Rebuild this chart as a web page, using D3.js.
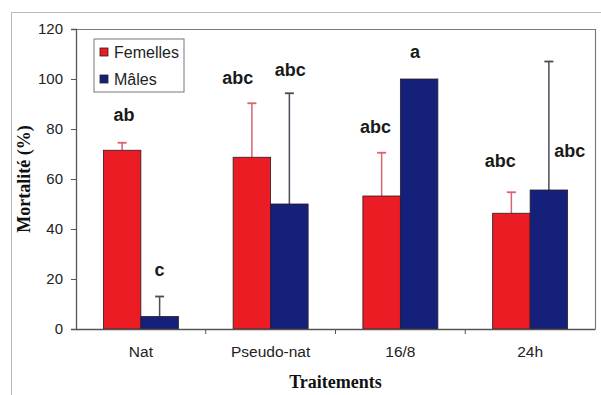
<!DOCTYPE html>
<html><head><meta charset="utf-8">
<script src="https://cdn.jsdelivr.net/npm/d3@7"></script>
<style>html,body{margin:0;padding:0;background:#fff}svg{display:block}</style>
</head><body>
<script>
const categories = ["Nat", "Pseudo-nat", "16/8", "24h"];
const seriesNames = ["Femelles", "Mâles"];
const femelles = [71.5, 68.7, 53.2, 46.3];
const males = [5, 50, 100, 55.6];
const femellesErr = [74.5, 90.3, 70.5, 54.7];
const malesErr = [13, 94.3, null, 107];
const femellesLetters = ["ab", "abc", "abc", "abc"];
const malesLetters = ["c", "abc", "a", "abc"];
const femellesLetterY = [85.6, 100.4, 80.8, 67.2];
const malesLetterY = [23.6, 103.6, 110.8, 71.2];
const yTicks = [0, 20, 40, 60, 80, 100, 120];

const W = 601, H = 395;
const m = {left: 76, right: 6, top: 29, bottom: 66};
const svg = d3.select("body").append("svg").attr("width", W).attr("height", H);

// outer chart frame
svg.append("rect").attr("x", 11.5).attr("y", 12.5).attr("width", 600).attr("height", 400)
  .attr("fill", "#fff").attr("stroke", "#b8b8b8").attr("stroke-width", 1);

const x0 = d3.scaleBand().domain(categories).range([m.left, W - m.right]).padding(0);
const x1 = d3.scaleBand().domain(seriesNames).range([0, x0.bandwidth()]).paddingInner(0).paddingOuter(0.73);
const y = d3.scaleLinear().domain([0, 120]).range([H - m.bottom, m.top]);

const colors = {"Femelles": "#ec1c24", "Mâles": "#15207a"};
const errColors = {"Femelles": "#d9646a", "Mâles": "#4a4a5a"};

// plot area border (top & right)
svg.append("path")
  .attr("d", `M${m.left},${y(120)+0.5}H${W - m.right + 0.5}V${y(0)}`)
  .attr("fill", "none").attr("stroke", "#7a7a7a").attr("stroke-width", 1.2);

const rows = categories.map((c, i) => ({
  cat: c,
  items: [
    {s: "Femelles", v: femelles[i], e: femellesErr[i], l: femellesLetters[i], ly: femellesLetterY[i]},
    {s: "Mâles", v: males[i], e: malesErr[i], l: malesLetters[i], ly: malesLetterY[i]}
  ]
}));

const g = svg.append("g");
const grp = g.selectAll("g.cat").data(rows).join("g").attr("transform", d => `translate(${x0(d.cat)},0)`);

// error bars (drawn behind bars)
grp.selectAll("g.err").data(d => d.items.filter(it => it.e != null)).join("g").each(function(d) {
  const cx = x1(d.s) + x1.bandwidth() / 2;
  const sel = d3.select(this);
  sel.append("line").attr("x1", cx).attr("x2", cx).attr("y1", y(d.v)).attr("y2", y(d.e))
    .attr("stroke", errColors[d.s]).attr("stroke-width", 1.5);
  sel.append("line").attr("x1", cx - 4.5).attr("x2", cx + 4.5).attr("y1", y(d.e)).attr("y2", y(d.e))
    .attr("stroke", errColors[d.s]).attr("stroke-width", 1.8);
});

grp.selectAll("rect").data(d => d.items).join("rect")
  .attr("x", d => x1(d.s))
  .attr("y", d => y(d.v))
  .attr("width", x1.bandwidth())
  .attr("height", d => y(0) - y(d.v))
  .attr("fill", d => colors[d.s])
  .attr("stroke", "#2a1a2a").attr("stroke-width", 0.8);

// significance letters
const letterDx = {"Nat": [2, 0], "Pseudo-nat": [-14, 1], "16/8": [-6, -4], "24h": [-11, 21]};
grp.selectAll("text.letter").data(d => d.items.map((it, k) => ({...it, cat: d.cat, k}))).join("text")
  .attr("class", "letter")
  .attr("x", d => x1(d.s) + x1.bandwidth() / 2 + letterDx[d.cat][d.k])
  .attr("y", d => y(d.ly))
  .attr("dy", "0.35em")
  .attr("text-anchor", "middle")
  .attr("font-family", "Liberation Sans, Arial, sans-serif")
  .attr("font-weight", "bold").attr("font-size", 18).attr("fill", "#1a1a1a")
  .text(d => d.l);

// y axis
const yAxis = svg.append("g").attr("transform", `translate(${m.left},0)`)
  .call(d3.axisLeft(y).tickValues(yTicks).tickSize(5).tickPadding(8));
yAxis.select(".domain").attr("stroke", "#555").attr("stroke-width", 1.3);
yAxis.selectAll(".tick line").attr("stroke", "#555");
yAxis.selectAll("text").attr("font-family", "Liberation Sans, Arial, sans-serif").attr("font-size", 15).attr("fill", "#222");

// x axis
const xAxis = svg.append("g").attr("transform", `translate(0,${y(0)})`)
  .call(d3.axisBottom(x0).tickSize(0).tickPadding(17));
xAxis.select(".domain").attr("stroke", "#555").attr("stroke-width", 1.3);
xAxis.selectAll("text").attr("font-family", "Liberation Sans, Arial, sans-serif").attr("font-size", 15.5).attr("fill", "#222");
// category separators ticks
xAxis.selectAll("line.sep").data(categories.slice(1)).join("line").attr("class", "sep")
  .attr("x1", d => x0(d)).attr("x2", d => x0(d)).attr("y1", 0).attr("y2", 5)
  .attr("stroke", "#555");

// axis titles
svg.append("text")
  .attr("transform", `translate(30,${(y(0) + y(120)) / 2}) rotate(-90)`)
  .attr("text-anchor", "middle")
  .attr("font-family", "Liberation Serif, Times New Roman, serif")
  .attr("font-weight", "bold").attr("font-size", 18).attr("fill", "#111")
  .text("Mortalité (%)");
svg.append("text")
  .attr("x", (m.left + W - m.right) / 2).attr("y", 388)
  .attr("text-anchor", "middle")
  .attr("font-family", "Liberation Serif, Times New Roman, serif")
  .attr("font-weight", "bold").attr("font-size", 18).attr("fill", "#111")
  .text("Traitements");

// legend
const lg = svg.append("g").attr("transform", "translate(94,39)");
lg.append("rect").attr("width", 90).attr("height", 53).attr("fill", "#fff")
  .attr("stroke", "#777").attr("stroke-width", 1);
seriesNames.forEach((s, i) => {
  const cy = 13 + i * 27;
  lg.append("rect").attr("x", 6).attr("y", cy - 4).attr("width", 8).attr("height", 8)
    .attr("fill", colors[s]).attr("stroke", "#222").attr("stroke-width", 0.8);
  lg.append("text").attr("x", 20).attr("y", cy).attr("dy", "0.35em")
    .attr("font-family", "Liberation Sans, Arial, sans-serif").attr("font-size", 16).attr("fill", "#222")
    .text(s);
});
</script>
</body></html>
